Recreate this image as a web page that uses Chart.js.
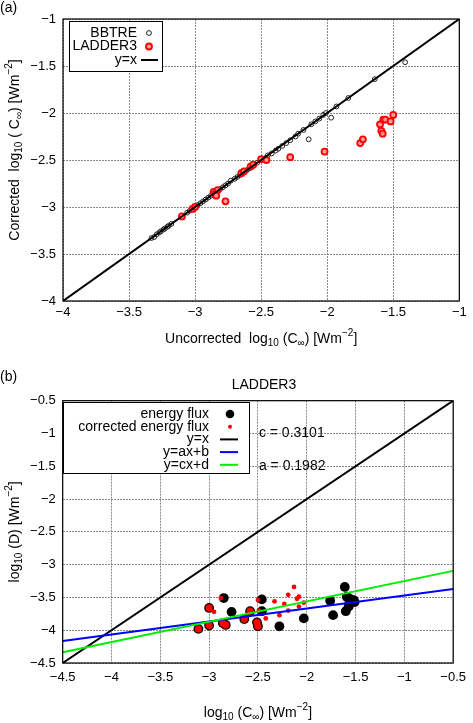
<!DOCTYPE html>
<html>
<head>
<meta charset="utf-8">
<script src="https://cdn.jsdelivr.net/npm/chart.js@4.4.0/dist/chart.umd.min.js"></script>
<style>
  html, body { margin: 0; padding: 0; background: #fff; }
  #wrap { position: relative; width: 473px; height: 723px; overflow: hidden; }
  canvas { position: absolute; left: 0; }
  #ca { top: 0; }
  #cb { top: 360px; }
</style>
</head>
<body>
<div id="wrap">
  <canvas id="ca" width="473" height="360"></canvas>
  <canvas id="cb" width="473" height="363"></canvas>
</div>
<script>
// ---- panel (a): uncorrected vs corrected log10(C_inf)
const bbtreX = [-3.33, -3.31, -3.29, -3.27, -3.26, -3.24, -3.23, -3.21, -3.20, -3.18,
  -3.06, -3.04, -3.00, -2.98, -2.96, -2.94, -2.92, -2.90, -2.88, -2.86, -2.83, -2.81,
  -2.79, -2.77, -2.75, -2.73, -2.70, -2.68, -2.66, -2.64, -2.61, -2.59, -2.56, -2.53,
  -2.50, -2.47, -2.45, -2.42, -2.39, -2.37, -2.34, -2.31, -2.28, -2.24, -2.22, -2.18,
  -2.14, -2.12, -2.09, -2.06, -2.03, -2.01, -1.97, -1.93, -1.84, -1.64, -1.41];
const bbtreY = [-3.33, -3.32, -3.29, -3.27, -3.26, -3.24, -3.23, -3.21, -3.20, -3.18,
  -3.06, -3.04, -3.00, -2.98, -2.96, -2.94, -2.92, -2.90, -2.88, -2.86, -2.83, -2.81,
  -2.79, -2.77, -2.75, -2.72, -2.70, -2.68, -2.66, -2.64, -2.61, -2.59, -2.56, -2.53,
  -2.50, -2.48, -2.45, -2.43, -2.40, -2.38, -2.35, -2.32, -2.29, -2.25, -2.22, -2.18,
  -2.28, -2.12, -2.09, -2.06, -2.02, -2.00, -2.05, -1.93, -1.84, -1.64, -1.46];
const ladderX = [-3.10, -3.02, -3.00, -2.86, -2.85, -2.83, -2.84, -2.77, -2.65, -2.63,
  -2.58, -2.56, -2.50, -2.46, -2.28, -2.02, -1.75, -1.73, -1.60, -1.59, -1.58, -1.575,
  -1.56, -1.52, -1.50];
const ladderY = [-3.10, -3.02, -3.00, -2.84, -2.86, -2.82, -2.88, -2.94, -2.64, -2.62,
  -2.57, -2.55, -2.49, -2.50, -2.47, -2.41, -2.32, -2.28, -2.12, -2.19, -2.22, -2.07,
  -2.07, -2.09, -2.02];
const ticksA = [-4, -3.5, -3, -2.5, -2, -1.5, -1];

// ---- panel (b): LADDER3 dissipation vs C_inf
const fluxX = [-3.11, -3.00, -3.00, -2.86, -2.83, -2.64, -2.58, -2.51, -2.50,
  -2.85, -2.77, -2.46, -2.46, -2.28, -2.03, -1.76, -1.73, -1.61, -1.59, -1.56,
  -1.52, -1.51, -1.57, -1.60, -1.57];
const fluxY = [-3.98, -3.93, -3.66, -3.89, -3.92, -3.83, -3.71, -3.88, -3.94,
  -3.51, -3.72, -3.53, -3.71, -3.94, -3.82, -3.55, -3.77, -3.34, -3.49, -3.52,
  -3.54, -3.57, -3.61, -3.71, -3.64];
const corrX = [-3.11, -3.00, -3.00, -2.86, -2.83, -2.64, -2.58, -2.51, -2.50,
  -2.88, -2.95, -2.50, -2.49, -2.42, -2.33, -2.28, -2.23, -2.19, -2.19, -2.13,
  -2.08, -2.10, -2.08, -2.03];
const corrY = [-3.98, -3.93, -3.66, -3.89, -3.92, -3.83, -3.71, -3.88, -3.94,
  -3.51, -3.72, -3.54, -3.70, -3.82, -3.56, -3.77, -3.60, -3.46, -3.70, -3.34,
  -3.49, -3.52, -3.64, -3.58];
const fitA = 0.1982, fitB = -3.271;   // y = ax + b
const fitC = 0.3101, fitD = -2.940;   // y = cx + d
const ticksB = [-4.5, -4, -3.5, -3, -2.5, -2, -1.5, -1, -0.5];

const FONT = "'Liberation Sans', Arial, sans-serif";
const TXT = 14;
const pts = (xs, ys) => xs.map((x, i) => ({ x: x, y: ys[i] }));
const minus = v => String(v).replace('-', '\u2212');

// text with sub/superscripts: parts = [[text, 0 normal | 1 sub | 2 sup], ...]
function richText(ctx, parts, x, y, size) {
  const small = Math.round(size * 0.72);
  let w = 0;
  parts.forEach(p => {
    ctx.font = (p[1] ? small : size) + 'px ' + FONT;
    w += ctx.measureText(p[0]).width;
  });
  let cx = x - w / 2;
  ctx.textAlign = 'left';
  ctx.textBaseline = 'middle';
  ctx.fillStyle = '#000';
  parts.forEach(p => {
    ctx.font = (p[1] ? small : size) + 'px ' + FONT;
    const dy = p[1] === 1 ? size * 0.32 : p[1] === 2 ? -size * 0.38 : 0;
    ctx.fillText(p[0], cx, y + dy);
    cx += ctx.measureText(p[0]).width;
  });
}

function axis(ticks, fitSize, pad) {
  return {
    type: 'linear',
    min: ticks[0],
    max: ticks[ticks.length - 1],
    afterBuildTicks: s => { s.ticks = ticks.map(v => ({ value: v })); },
    afterFit: s => {
      if (s.isHorizontal()) s.height = fitSize; else s.width = fitSize;
    },
    grid: { color: 'rgba(100,100,100,0.75)', lineWidth: 1, drawTicks: false },
    border: { display: false, dash: [2, 1] },
    ticks: {
      padding: pad,
      color: '#000',
      font: { family: FONT, size: 13 },
      callback: v => minus(v)
    }
  };
}

// legend box in gnuplot style: right-aligned text, sample on the right
function drawKey(ctx, box, rows) {
  ctx.save();
  ctx.fillStyle = '#fff';
  ctx.fillRect(box.x, box.y, box.w, box.h);
  ctx.strokeStyle = '#000';
  ctx.lineWidth = 1;
  ctx.strokeRect(box.x + 0.5, box.y + 0.5, box.w, box.h);
  ctx.font = TXT + 'px ' + FONT;
  ctx.textAlign = 'right';
  ctx.textBaseline = 'middle';
  rows.forEach((r, i) => {
    const y = box.y + box.top + i * box.step;
    ctx.fillStyle = '#000';
    ctx.fillText(r.label, box.textX, y);
    if (r.line) {
      ctx.strokeStyle = r.line;
      ctx.lineWidth = 2;
      ctx.beginPath();
      ctx.moveTo(box.lineX0, y);
      ctx.lineTo(box.lineX1, y);
      ctx.stroke();
    } else {
      ctx.beginPath();
      ctx.arc(box.symX, y, r.r, 0, Math.PI * 2);
      if (r.fill) { ctx.fillStyle = r.fill; ctx.fill(); }
      if (r.stroke) { ctx.strokeStyle = r.stroke; ctx.lineWidth = r.bw; ctx.stroke(); }
    }
  });
  ctx.restore();
}

function frame(chart) {
  const a = chart.chartArea, ctx = chart.ctx;
  ctx.save();
  ctx.strokeStyle = '#000';
  ctx.lineWidth = 1.2;
  ctx.strokeRect(a.left, a.top, a.right - a.left, a.bottom - a.top);
  ctx.restore();
}

// ---------------- panel (a)
new Chart(document.getElementById('ca'), {
  type: 'scatter',
  data: {
    datasets: [
      {
        label: 'y=x', type: 'line', order: 1,
        data: [{ x: ticksA[0], y: ticksA[0] }, { x: ticksA[ticksA.length - 1], y: ticksA[ticksA.length - 1] }],
        borderColor: '#000', borderWidth: 2, pointRadius: 0, fill: false
      },
      {
        label: 'LADDER3', order: 2,
        data: pts(ladderX, ladderY),
        pointRadius: 3, borderWidth: 1.8,
        borderColor: '#ff0000', backgroundColor: 'rgba(255,150,150,0.9)'
      },
      {
        label: 'BBTRE', order: 3,
        data: pts(bbtreX, bbtreY),
        pointRadius: 2.4, borderWidth: 1,
        borderColor: '#222', backgroundColor: 'rgba(255,255,255,0)'
      }
    ]
  },
  options: {
    responsive: false,
    animation: false,
    layout: { padding: { left: 0, right: 13.7, top: 19, bottom: 0 } },
    plugins: { legend: { display: false }, tooltip: { enabled: false } },
    scales: { x: axis(ticksA, 59, 4), y: axis(ticksA, 63, 7) }
  },
  plugins: [{
    id: 'decorA',
    afterDatasetsDraw(chart) {
      frame(chart);
      drawKey(chart.ctx, { x: 69, y: 21, w: 93, h: 50, top: 12, step: 13.5, textX: 137, symX: 149, lineX0: 141, lineX1: 158 }, [
        { label: 'BBTRE', r: 2.4, stroke: '#222', bw: 1 },
        { label: 'LADDER3', r: 3, stroke: '#ff0000', fill: 'rgba(255,150,150,0.9)', bw: 1.8 },
        { label: 'y=x', line: '#000' }
      ]);
    },
    afterDraw(chart) {
      const ctx = chart.ctx, a = chart.chartArea;
      ctx.save();
      ctx.font = TXT + 'px ' + FONT;
      ctx.fillStyle = '#000';
      ctx.textAlign = 'left';
      ctx.textBaseline = 'middle';
      ctx.fillText('(a)', 0, 8);
      richText(ctx, [['Uncorrected  log', 0], ['10', 1], [' (C', 0], ['\u221e', 1], [') [Wm', 0], ['\u22122', 2], [']', 0]],
        (a.left + a.right) / 2, 339, TXT);
      ctx.translate(15, 150);
      ctx.rotate(-Math.PI / 2);
      richText(ctx, [['Corrected  log', 0], ['10', 1], [' ( C', 0], ['\u221e', 1], [') [Wm', 0], ['\u22122', 2], [']', 0]],
        0, 0, TXT);
      ctx.restore();
    }
  }]
});

// ---------------- panel (b)
const lineB = (k, c) => [{ x: ticksB[0], y: k * ticksB[0] + c }, { x: ticksB[ticksB.length - 1], y: k * ticksB[ticksB.length - 1] + c }];
const onFlux = p => p && fluxX.some((x, i) => Math.abs(x - p.x) < 0.005 && Math.abs(fluxY[i] - p.y) < 0.005);

new Chart(document.getElementById('cb'), {
  type: 'scatter',
  data: {
    datasets: [
      {
        label: 'energy flux', order: 5,
        data: pts(fluxX, fluxY),
        pointRadius: 4.9, borderWidth: 0,
        backgroundColor: '#000', borderColor: '#000'
      },
      {
        label: 'corrected energy flux', order: 4,
        data: pts(corrX, corrY),
        pointRadius: c => onFlux(c.raw) ? 3.6 : 2.4, borderWidth: 0,
        backgroundColor: '#ff0000', borderColor: '#ff0000'
      },
      {
        label: 'y=x', type: 'line', order: 3,
        data: lineB(1, 0),
        borderColor: '#000', borderWidth: 2, pointRadius: 0, fill: false
      },
      {
        label: 'y=ax+b', type: 'line', order: 2,
        data: lineB(fitA, fitB),
        borderColor: '#0000ff', borderWidth: 2, pointRadius: 0, fill: false
      },
      {
        label: 'y=cx+d', type: 'line', order: 1,
        data: lineB(fitC, fitD),
        borderColor: '#00ee00', borderWidth: 2, pointRadius: 0, fill: false
      }
    ]
  },
  options: {
    responsive: false,
    animation: false,
    layout: { padding: { left: 0, right: 13.7, top: 40.7, bottom: 0 } },
    plugins: { legend: { display: false }, tooltip: { enabled: false } },
    scales: { x: axis(ticksB, 60, 7), y: axis(ticksB, 62.7, 7) }
  },
  plugins: [{
    id: 'decorB',
    beforeDraw(chart) {
      // labels sit on the grid, gridlines run through them as in the original
      const ctx = chart.ctx, sx = chart.scales.x, sy = chart.scales.y;
      ctx.save();
      ctx.font = TXT + 'px ' + FONT;
      ctx.fillStyle = '#000';
      ctx.textAlign = 'left';
      ctx.textBaseline = 'middle';
      ctx.fillText('c = ' + fitC.toFixed(4), sx.getPixelForValue(-2.49), sy.getPixelForValue(-1));
      ctx.fillText('a = ' + fitA.toFixed(4), sx.getPixelForValue(-2.49), sy.getPixelForValue(-1.5));
      ctx.restore();
    },
    afterDatasetsDraw(chart) {
      frame(chart);
      drawKey(chart.ctx, { x: 63, y: 42, w: 186, h: 71, top: 12, step: 12.7, textX: 209, symX: 230, lineX0: 220, lineX1: 238 }, [
        { label: 'energy flux', r: 4.3, fill: '#000' },
        { label: 'corrected energy flux', r: 2, fill: '#ff0000' },
        { label: 'y=x', line: '#000' },
        { label: 'y=ax+b', line: '#0000ff' },
        { label: 'y=cx+d', line: '#00ee00' }
      ]);
    },
    afterDraw(chart) {
      const ctx = chart.ctx, a = chart.chartArea;
      ctx.save();
      ctx.font = TXT + 'px ' + FONT;
      ctx.fillStyle = '#000';
      ctx.textAlign = 'left';
      ctx.textBaseline = 'middle';
      ctx.fillText('(b)', 0, 17);
      ctx.textAlign = 'center';
      ctx.fillText('LADDER3', (a.left + a.right) / 2 + 6, 25);
      richText(ctx, [['log', 0], ['10', 1], [' (C', 0], ['\u221e', 1], [') [Wm', 0], ['\u22122', 2], [']', 0]],
        (a.left + a.right) / 2, 353, TXT);
      ctx.translate(15, (a.top + a.bottom) / 2);
      ctx.rotate(-Math.PI / 2);
      richText(ctx, [['log', 0], ['10', 1], [' (D) [Wm', 0], ['\u22122', 2], [']', 0]], 0, 0, TXT);
      ctx.restore();
    }
  }]
});
</script>
</body>
</html>
